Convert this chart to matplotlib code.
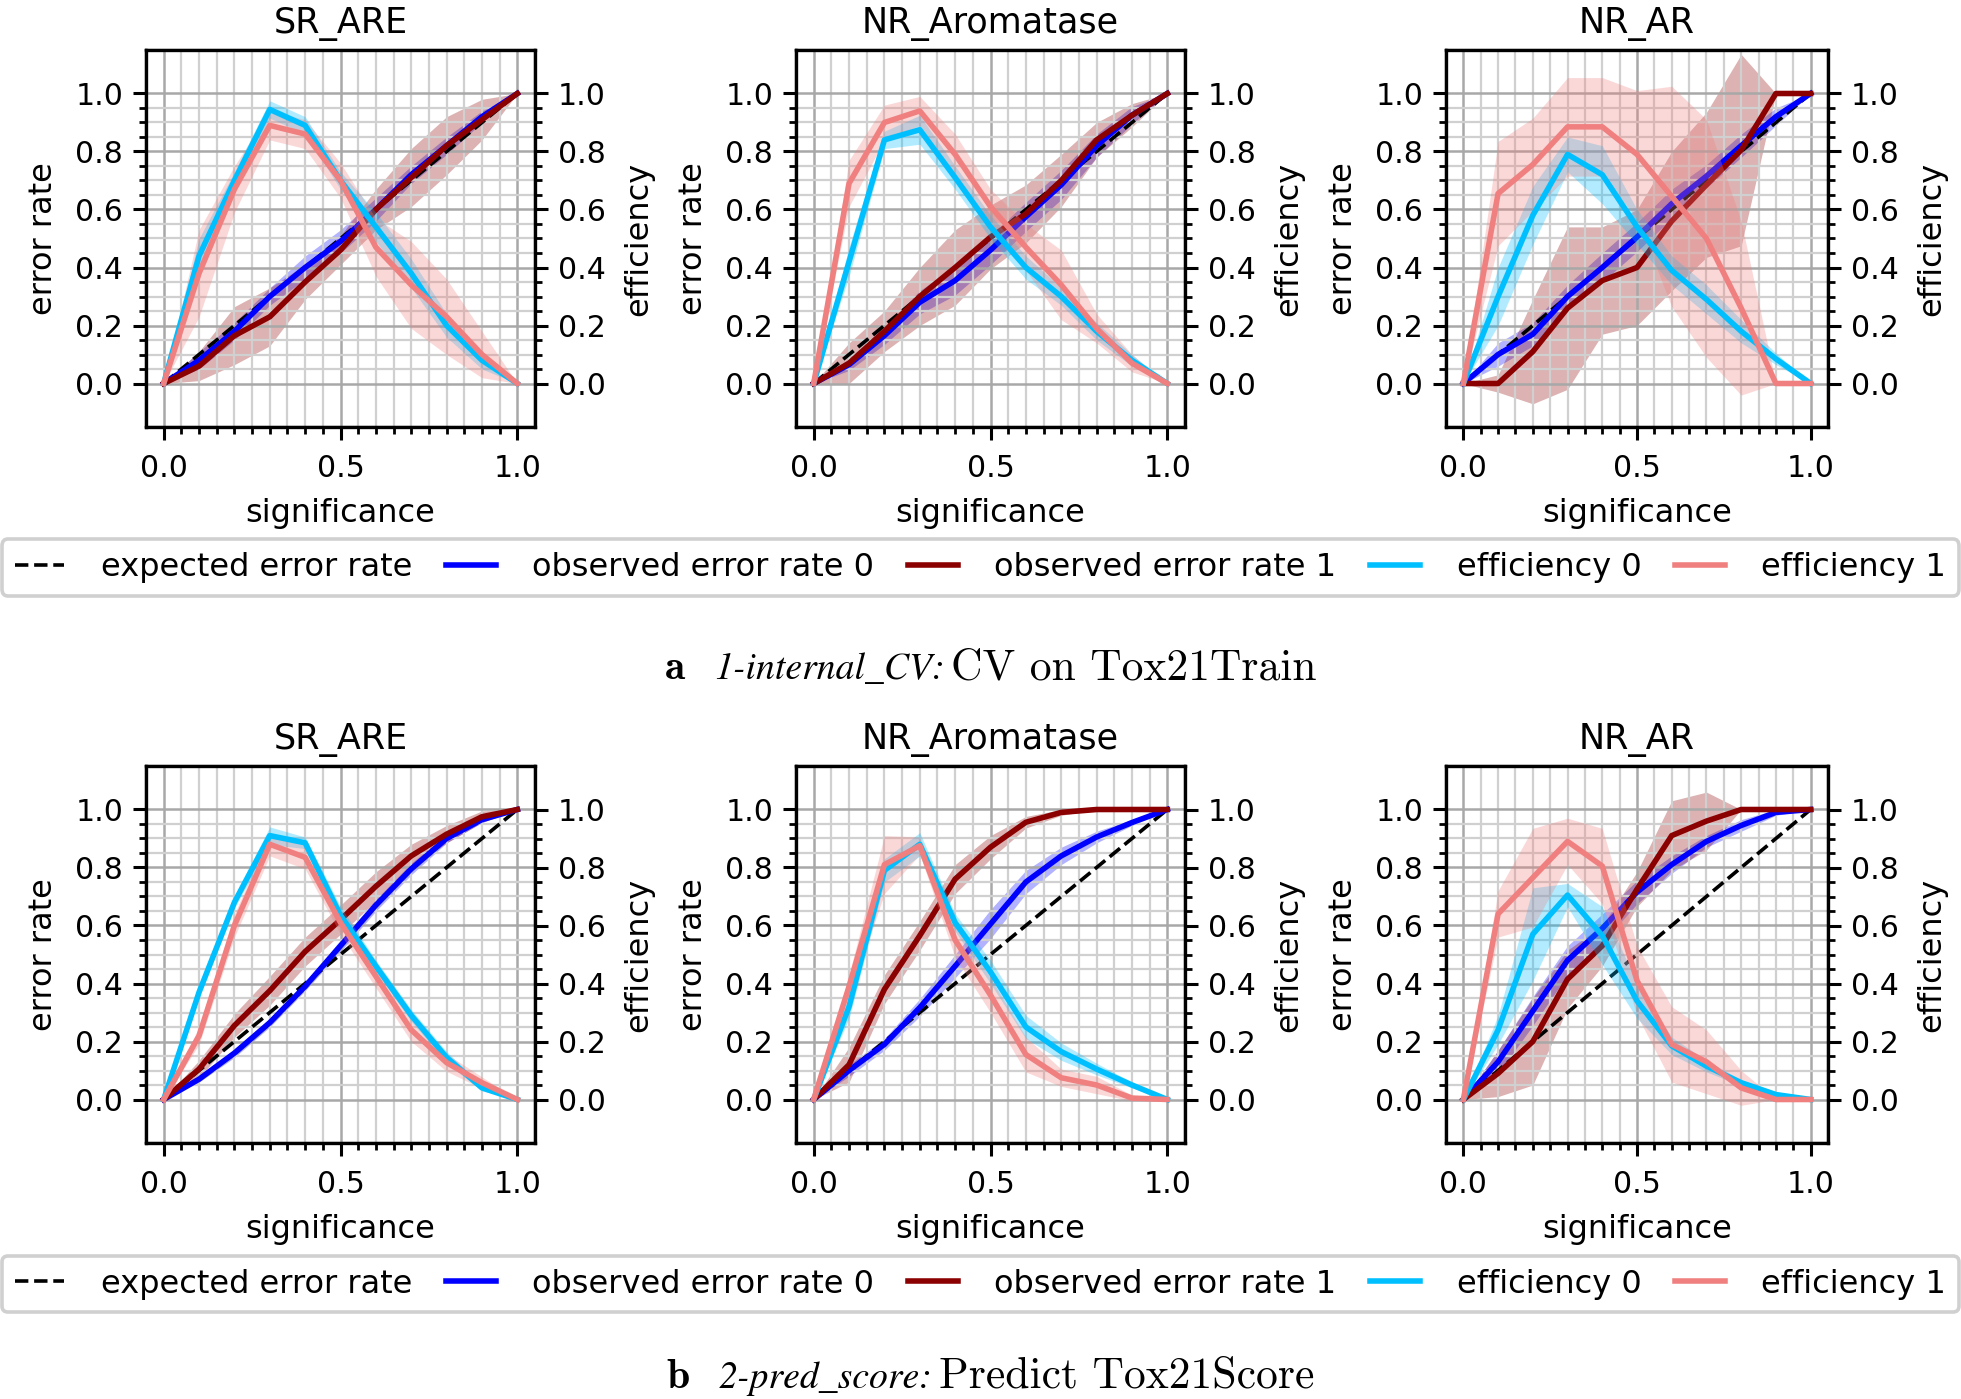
import matplotlib
matplotlib.use('Agg')
import matplotlib.pyplot as plt
import numpy as np
from matplotlib.offsetbox import TextArea, HPacker, AnchoredOffsetbox

plt.rcParams['font.family'] = ['DejaVu Sans']
plt.rcParams['font.size'] = 11.5

# significance levels (x axis)
sig = [0.0, 0.1, 0.2, 0.3, 0.4, 0.5, 0.6, 0.7, 0.8, 0.9, 1.0]

targets = ['SR_ARE', 'NR_Aromatase', 'NR_AR']

# ---- a: 1-internal_CV ----
cv_sr_are_err0 = [0, 0.08, 0.18, 0.30, 0.40, 0.49, 0.60, 0.72, 0.82, 0.92, 1.0]
cv_sr_are_err0_sd = [0, 0.03, 0.03, 0.03, 0.04, 0.04, 0.04, 0.03, 0.03, 0.02, 0]
cv_sr_are_err1 = [0, 0.06, 0.165, 0.23, 0.35, 0.46, 0.60, 0.71, 0.82, 0.91, 1.0]
cv_sr_are_err1_sd = [0, 0.05, 0.10, 0.10, 0.06, 0.05, 0.07, 0.10, 0.10, 0.07, 0]
cv_sr_are_eff0 = [0, 0.44, 0.70, 0.945, 0.89, 0.70, 0.54, 0.38, 0.20, 0.08, 0]
cv_sr_are_eff0_sd = [0, 0.06, 0.03, 0.03, 0.03, 0.03, 0.05, 0.05, 0.04, 0.03, 0]
cv_sr_are_eff1 = [0, 0.38, 0.67, 0.89, 0.86, 0.70, 0.47, 0.34, 0.23, 0.10, 0]
cv_sr_are_eff1_sd = [0, 0.15, 0.08, 0.05, 0.05, 0.06, 0.10, 0.15, 0.13, 0.08, 0]

cv_nr_arom_err0 = [0, 0.065, 0.165, 0.28, 0.355, 0.46, 0.575, 0.685, 0.82, 0.925, 1.0]
cv_nr_arom_err0_sd = [0, 0.02, 0.03, 0.04, 0.05, 0.05, 0.05, 0.05, 0.04, 0.03, 0]
cv_nr_arom_err1 = [0, 0.07, 0.18, 0.30, 0.40, 0.505, 0.585, 0.70, 0.84, 0.925, 1.0]
cv_nr_arom_err1_sd = [0, 0.07, 0.07, 0.10, 0.13, 0.11, 0.10, 0.09, 0.06, 0.04, 0]
cv_nr_arom_eff0 = [0, 0.42, 0.84, 0.875, 0.71, 0.54, 0.40, 0.30, 0.18, 0.08, 0]
cv_nr_arom_eff0_sd = [0, 0.05, 0.03, 0.05, 0.04, 0.04, 0.04, 0.03, 0.03, 0.02, 0]
cv_nr_arom_eff1 = [0, 0.69, 0.90, 0.94, 0.79, 0.61, 0.47, 0.34, 0.19, 0.07, 0]
cv_nr_arom_eff1_sd = [0, 0.08, 0.06, 0.05, 0.07, 0.06, 0.08, 0.12, 0.05, 0.03, 0]

cv_nr_ar_err0 = [0, 0.10, 0.17, 0.30, 0.40, 0.505, 0.62, 0.715, 0.82, 0.92, 1.0]
cv_nr_ar_err0_sd = [0, 0.04, 0.04, 0.04, 0.05, 0.05, 0.05, 0.04, 0.04, 0.03, 0]
cv_nr_ar_err1 = [0, 0.0, 0.11, 0.26, 0.355, 0.40, 0.56, 0.685, 0.805, 1.0, 1.0]
cv_nr_ar_err1_sd = [0, 0.03, 0.18, 0.28, 0.185, 0.20, 0.24, 0.25, 0.33, 0.0, 0]
cv_nr_ar_eff0 = [0, 0.30, 0.58, 0.79, 0.72, 0.54, 0.39, 0.29, 0.18, 0.085, 0]
cv_nr_ar_eff0_sd = [0, 0.10, 0.10, 0.06, 0.10, 0.06, 0.05, 0.05, 0.04, 0.02, 0]
cv_nr_ar_eff1 = [0, 0.655, 0.755, 0.885, 0.885, 0.79, 0.645, 0.50, 0.26, 0, 0]
cv_nr_ar_eff1_sd = [0, 0.18, 0.16, 0.17, 0.17, 0.22, 0.38, 0.41, 0.30, 0.0, 0]

# ---- b: 2-pred_score ----
sc_sr_are_err0 = [0, 0.07, 0.16, 0.265, 0.39, 0.53, 0.67, 0.795, 0.90, 0.965, 1.0]
sc_sr_are_err0_sd = [0, 0.01, 0.015, 0.015, 0.015, 0.02, 0.02, 0.02, 0.015, 0.01, 0]
sc_sr_are_err1 = [0, 0.105, 0.255, 0.375, 0.51, 0.62, 0.735, 0.84, 0.915, 0.975, 1.0]
sc_sr_are_err1_sd = [0, 0.03, 0.04, 0.05, 0.05, 0.05, 0.05, 0.04, 0.03, 0.02, 0]
sc_sr_are_eff0 = [0, 0.37, 0.68, 0.91, 0.885, 0.635, 0.46, 0.29, 0.145, 0.04, 0]
sc_sr_are_eff0_sd = [0, 0.02, 0.02, 0.03, 0.02, 0.03, 0.02, 0.02, 0.02, 0.01, 0]
sc_sr_are_eff1 = [0, 0.22, 0.60, 0.88, 0.835, 0.61, 0.425, 0.24, 0.127, 0.058, 0]
sc_sr_are_eff1_sd = [0, 0.03, 0.04, 0.04, 0.04, 0.04, 0.04, 0.04, 0.03, 0.02, 0]

sc_nr_arom_err0 = [0, 0.10, 0.19, 0.317, 0.46, 0.605, 0.75, 0.84, 0.905, 0.955, 1.0]
sc_nr_arom_err0_sd = [0, 0.02, 0.02, 0.03, 0.04, 0.05, 0.04, 0.03, 0.02, 0.01, 0]
sc_nr_arom_err1 = [0, 0.12, 0.38, 0.565, 0.76, 0.87, 0.956, 0.99, 1.0, 1.0, 1.0]
sc_nr_arom_err1_sd = [0, 0.06, 0.05, 0.05, 0.05, 0.04, 0.02, 0.01, 0.0, 0.0, 0]
sc_nr_arom_eff0 = [0, 0.32, 0.79, 0.88, 0.61, 0.44, 0.25, 0.165, 0.105, 0.05, 0]
sc_nr_arom_eff0_sd = [0, 0.04, 0.04, 0.04, 0.03, 0.04, 0.04, 0.03, 0.02, 0.01, 0]
sc_nr_arom_eff1 = [0, 0.39, 0.81, 0.875, 0.55, 0.36, 0.155, 0.075, 0.05, 0.005, 0]
sc_nr_arom_eff1_sd = [0, 0.04, 0.10, 0.03, 0.06, 0.06, 0.06, 0.03, 0.03, 0.01, 0]

sc_nr_ar_err0 = [0, 0.13, 0.305, 0.48, 0.59, 0.715, 0.81, 0.89, 0.945, 0.99, 1.0]
sc_nr_ar_err0_sd = [0, 0.04, 0.05, 0.05, 0.05, 0.04, 0.03, 0.02, 0.02, 0.01, 0]
sc_nr_ar_err1 = [0, 0.09, 0.20, 0.415, 0.53, 0.725, 0.91, 0.96, 1.0, 1.0, 1.0]
sc_nr_ar_err1_sd = [0, 0.08, 0.15, 0.10, 0.07, 0.06, 0.12, 0.10, 0.0, 0.0, 0]
sc_nr_ar_eff0 = [0, 0.24, 0.57, 0.705, 0.565, 0.34, 0.185, 0.115, 0.058, 0.017, 0]
sc_nr_ar_eff0_sd = [0, 0.05, 0.16, 0.04, 0.10, 0.06, 0.03, 0.02, 0.01, 0.01, 0]
sc_nr_ar_eff1 = [0, 0.64, 0.765, 0.89, 0.805, 0.41, 0.19, 0.13, 0.04, 0, 0]
sc_nr_ar_eff1_sd = [0, 0.08, 0.17, 0.08, 0.13, 0.12, 0.13, 0.11, 0.06, 0, 0]

rows = [
    [(cv_sr_are_err0, cv_sr_are_err0_sd, cv_sr_are_err1, cv_sr_are_err1_sd,
      cv_sr_are_eff0, cv_sr_are_eff0_sd, cv_sr_are_eff1, cv_sr_are_eff1_sd),
     (cv_nr_arom_err0, cv_nr_arom_err0_sd, cv_nr_arom_err1, cv_nr_arom_err1_sd,
      cv_nr_arom_eff0, cv_nr_arom_eff0_sd, cv_nr_arom_eff1, cv_nr_arom_eff1_sd),
     (cv_nr_ar_err0, cv_nr_ar_err0_sd, cv_nr_ar_err1, cv_nr_ar_err1_sd,
      cv_nr_ar_eff0, cv_nr_ar_eff0_sd, cv_nr_ar_eff1, cv_nr_ar_eff1_sd)],
    [(sc_sr_are_err0, sc_sr_are_err0_sd, sc_sr_are_err1, sc_sr_are_err1_sd,
      sc_sr_are_eff0, sc_sr_are_eff0_sd, sc_sr_are_eff1, sc_sr_are_eff1_sd),
     (sc_nr_arom_err0, sc_nr_arom_err0_sd, sc_nr_arom_err1, sc_nr_arom_err1_sd,
      sc_nr_arom_eff0, sc_nr_arom_eff0_sd, sc_nr_arom_eff1, sc_nr_arom_eff1_sd),
     (sc_nr_ar_err0, sc_nr_ar_err0_sd, sc_nr_ar_err1, sc_nr_ar_err1_sd,
      sc_nr_ar_eff0, sc_nr_ar_eff0_sd, sc_nr_ar_eff1, sc_nr_ar_eff1_sd)],
]

labels = ['expected error rate', 'observed error rate 0', 'observed error rate 1',
          'efficiency 0', 'efficiency 1']
colors = ['blue', 'darkred', 'deepskyblue', 'lightcoral']

fig = plt.figure(figsize=(1961 / 200, 1399 / 200), dpi=200)

col_left = [146 / 1961, 796 / 1961, 1446 / 1961]
col_width = [389 / 1961, 389 / 1961, 382 / 1961]
row_bottom = [1 - 427 / 1399, 1 - 1143 / 1399]
row_height = 377 / 1399

legend_y = [0.5944, 0.0822]


def style_y(a):
    a.set_ylim(-0.15, 1.15)
    a.set_yticks(np.arange(0, 1.01, 0.2))
    a.set_yticks(np.linspace(0, 1, 21), minor=True)
    a.tick_params(which='major', length=4.7, width=1.1, labelsize=10.8)
    a.tick_params(which='minor', length=2.6, width=1.0)


x = np.array(sig)
for r, row in enumerate(rows):
    handles = None
    for c, vals in enumerate(row):
        e0, e0s, e1, e1s, f0, f0s, f1, f1s = [np.array(v) for v in vals]
        ax = fig.add_axes([col_left[c], row_bottom[r], col_width[c], row_height])
        ax.set_xlim(-0.05, 1.05)
        ax.set_xticks([0, 0.5, 1.0])
        ax.set_xticks(np.linspace(0, 1, 21), minor=True)
        style_y(ax)
        ax.tick_params(axis='x', which='major', pad=5.0)
        ax.grid(which='major', color='#a8a8a8', lw=0.9)
        ax.grid(which='minor', color='#d0d0d0', lw=0.8)
        for sp in ax.spines.values():
            sp.set_linewidth(1.2)

        l_exp, = ax.plot(x, x, '--', color='black', lw=1.3)
        ax.fill_between(x, e0 - e0s, e0 + e0s, color=colors[0], alpha=0.3, lw=0)
        l0, = ax.plot(x, e0, color=colors[0], lw=2.0)
        ax.fill_between(x, e1 - e1s, e1 + e1s, color=colors[1], alpha=0.3, lw=0)
        l1, = ax.plot(x, e1, color=colors[1], lw=2.0)

        ax2 = ax.twinx()
        style_y(ax2)
        ax2.fill_between(x, f0 - f0s, f0 + f0s, color=colors[2], alpha=0.3, lw=0)
        l2, = ax2.plot(x, f0, color=colors[2], lw=2.0)
        ax2.fill_between(x, f1 - f1s, f1 + f1s, color=colors[3], alpha=0.3, lw=0)
        l3, = ax2.plot(x, f1, color=colors[3], lw=2.0)

        ax.set_title(targets[c], fontsize=12.6)
        ax.set_xlabel('significance', labelpad=5.5)
        ax.set_ylabel('error rate', labelpad=6.0)
        ax2.set_ylabel('efficiency', labelpad=6.5)
        if handles is None:
            handles = [l_exp, l0, l1, l2, l3]

    leg = fig.legend(handles, labels, loc='center',
                     bbox_to_anchor=(0.001, legend_y[r] - 0.02, 0.998, 0.04),
                     mode='expand', ncol=5, fontsize=11.5, handlelength=1.55,
                     handletextpad=1.15, borderpad=0.4, borderaxespad=0,
                     fancybox=True, framealpha=1, edgecolor='#d0d0d0')
    leg.get_frame().set_linewidth(1.3)

# captions under each row
captions = [('a', '1-internal_CV:', 'CV on Tox21Train', 0.5225),
            ('b', '2-pred_score:', 'Predict Tox21Score', 0.016)]
for tag, ital, rest, yc in captions:
    t_tag = TextArea(tag, textprops=dict(family='cmb10', size=15))
    t_ital = TextArea(ital, textprops=dict(family='STIXGeneral', style='italic', size=13.6))
    t_rest = TextArea(rest, textprops=dict(family='cmr10', size=15.7))
    inner = HPacker(children=[t_ital, t_rest], align='baseline', pad=0, sep=2.2)
    box = HPacker(children=[t_tag, inner], align='baseline', pad=0, sep=10.5)
    anc = AnchoredOffsetbox(loc='center', child=box, pad=0, borderpad=0, frameon=False,
                            bbox_to_anchor=(0.505, yc), bbox_transform=fig.transFigure)
    fig.add_artist(anc)

fig.savefig('out.png', dpi=200)
